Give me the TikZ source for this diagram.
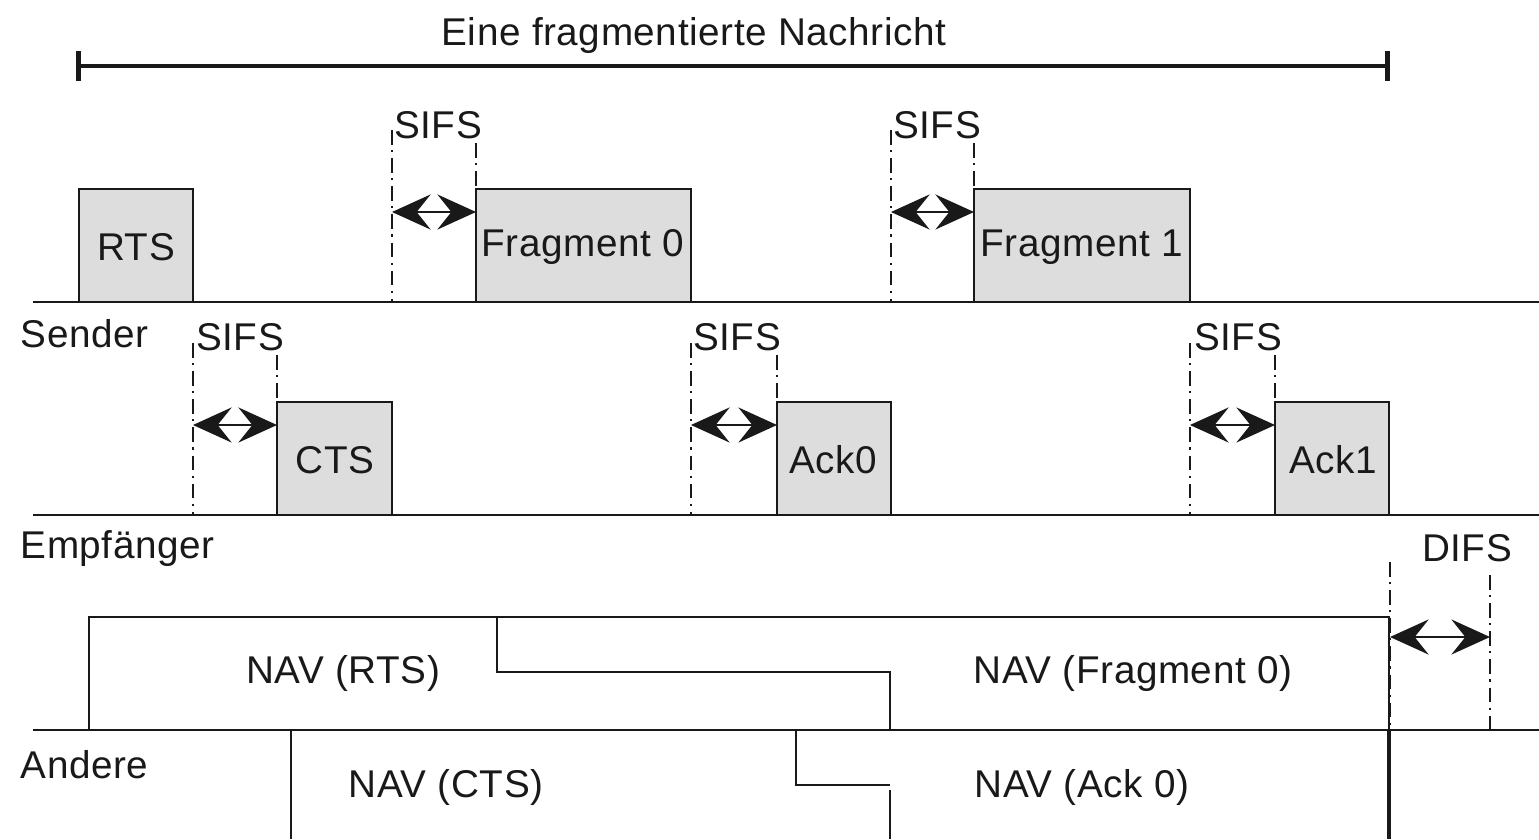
\documentclass[tikz,border=0pt]{standalone}
\usepackage{fontspec}
\setmainfont[LetterSpace=1.5]{Liberation Sans}
\usetikzlibrary{arrows.meta,fit}
\definecolor{boxgray}{RGB}{221,221,221}
\definecolor{ink}{RGB}{25,25,25}
\begin{document}
\begin{tikzpicture}[x=0.01cm,y=-0.01cm,
  every node/.style={font=\fontsize{11}{13}\selectfont, text=ink, inner sep=0pt},
  pktbox/.style={draw=ink, fill=boxgray, line width=0.5pt, inner sep=0pt},
  rowline/.style={draw=ink, line width=0.6pt},
  guideline/.style={draw=ink, line width=0.45pt, dash pattern=on 4.2pt off 1.5pt on 0.6pt off 1.7pt},
  gaparrow/.style={draw=ink, line width=0.4pt, {Stealth[length=11pt,width=10pt,inset=4pt]}-{Stealth[length=11pt,width=10pt,inset=4pt]}},
  navline/.style={draw=ink, line width=0.5pt},
  lbl/.style={anchor=base},
  rowlbl/.style={anchor=base west}
]
\useasboundingbox (0,0) rectangle (1539,839);

% title and message span
\node[lbl] (title) at (694,45) {Eine fragmentierte Nachricht};
\coordinate (barL) at (76,66);
\coordinate (barR) at (1390,66);
\draw[draw=ink, line width=1.4pt, {Bar[width=8.5pt]}-{Bar[width=8.5pt]}] (barL) -- (barR);

% row base lines
\coordinate (sL) at (33,302);  \coordinate (sR) at (1539,302);
\coordinate (eL) at (33,515);  \coordinate (eR) at (1539,515);
\coordinate (aL) at (33,730);  \coordinate (aR) at (1539,730);
\draw[rowline] (sL) -- (sR);
\draw[rowline] (eL) -- (eR);
\draw[rowline] (aL) -- (aR);

% row labels
\node[rowlbl] (lsender) at (20,347) {Sender};
\node[rowlbl] (lempf) at (20,558) {Empfänger};
\node[rowlbl] (landere) at (20,778) {Andere};

% guide lines (SIFS / DIFS)
\foreach \n/\x/\ya/\yb in {g1/392/130/302, g2/476/143/302, g3/891/130/302, g4/974/143/302,
                           g5/193/343/515, g6/277/355/515, g7/691/343/515, g8/777/355/515,
                           g9/1190/343/515, g10/1275/355/515, g11/1390/562/730, g12/1490/575/730}{
  \coordinate (\n t) at (\x,\ya);
  \coordinate (\n b) at (\x,\yb);
  \draw[guideline] (\n t) -- (\n b);
}

% frames
\node[pktbox, fit={(79,189)(193,302)}] (rts) {};
\node[pktbox, fit={(476,189)(691,302)}] (frag0) {};
\node[pktbox, fit={(974,189)(1190,302)}] (frag1) {};
\node[pktbox, fit={(277,402)(392,515)}] (cts) {};
\node[pktbox, fit={(777,402)(891,515)}] (ack0) {};
\node[pktbox, fit={(1275,402)(1389,515)}] (ack1) {};
\node[lbl] (trts) at (136,260) {RTS};
\node[lbl] (tfrag0) at (583,256) {Fragment 0};
\node[lbl] (tfrag1) at (1082,256) {Fragment 1};
\node[lbl] (tcts) at (335,473) {CTS};
\node[lbl] (tack0) at (833,473) {Ack0};
\node[lbl] (tack1) at (1333,473) {Ack1};

% gap arrows
\coordinate (a1l) at (392,212);  \coordinate (a1r) at (476,212);
\coordinate (a2l) at (891,212);  \coordinate (a2r) at (974,212);
\coordinate (a3l) at (193,425);  \coordinate (a3r) at (277,425);
\coordinate (a4l) at (691,425);  \coordinate (a4r) at (777,425);
\coordinate (a5l) at (1190,425); \coordinate (a5r) at (1275,425);
\coordinate (a6l) at (1390,637); \coordinate (a6r) at (1490,637);
\draw[gaparrow] (a1l) -- (a1r);
\draw[gaparrow] (a2l) -- (a2r);
\draw[gaparrow] (a3l) -- (a3r);
\draw[gaparrow] (a4l) -- (a4r);
\draw[gaparrow] (a5l) -- (a5r);
\draw[gaparrow] (a6l) -- (a6r);

% gap labels
\node[lbl] (sifs1) at (438,138) {SIFS};
\node[lbl] (sifs2) at (937,138) {SIFS};
\node[lbl] (sifs3) at (240,350) {SIFS};
\node[lbl] (sifs4) at (737,350) {SIFS};
\node[lbl] (sifs5) at (1238,350) {SIFS};
\node[lbl] (difs) at (1467,561) {DIFS};

% NAV bars
\coordinate (n1) at (89,730);
\coordinate (n2) at (89,617);
\coordinate (n3) at (1389,617);
\coordinate (n4) at (1389,730);
\draw[navline] (n1) -- (n2) -- (n3) -- (n4);
\coordinate (m1) at (497,617);
\coordinate (m2) at (497,672);
\coordinate (m3) at (890,672);
\coordinate (m4) at (890,730);
\draw[navline] (m1) -- (m2) -- (m3) -- (m4);
\coordinate (c1) at (291,730);
\coordinate (c2) at (291,839);
\draw[navline] (c1) -- (c2);
\coordinate (k1) at (796,730);
\coordinate (k2) at (796,785);
\coordinate (k3) at (890,785);
\coordinate (k4) at (890,790);
\coordinate (k5) at (890,839);
\draw[navline] (k1) -- (k2) -- (k3);
\draw[navline] (k4) -- (k5);
\coordinate (r1) at (1389,730);
\coordinate (r2) at (1389,839);
\draw[draw=ink, line width=0.9pt] (r1) -- (r2);

\node[lbl] (navrts) at (343,683) {NAV (RTS)};
\node[lbl] (navfrag) at (1133,683) {NAV (Fragment 0)};
\node[lbl] (navcts) at (446,797) {NAV (CTS)};
\node[lbl] (navack) at (1082,797) {NAV (Ack 0)};
\end{tikzpicture}
\end{document}
